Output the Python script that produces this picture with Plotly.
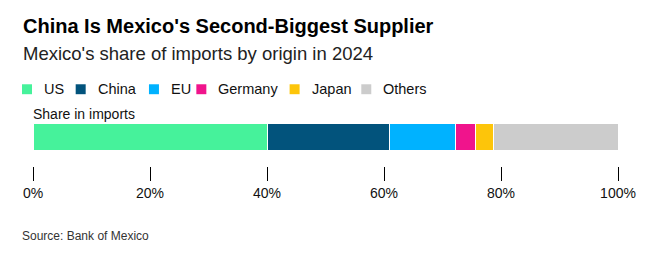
import plotly.graph_objects as go

categories = ["US", "China", "EU", "Germany", "Japan", "Others"]
shares = [40.1, 20.8, 11.3, 3.4, 3.1, 21.3]
colors = ["#46f29b", "#02537c", "#00b2ff", "#f0148c", "#fdc50a", "#cccccc"]
row_label = ["Share in imports"]
tick_vals = [0, 20, 40, 60, 80, 100]
tick_text = ["0%", "20%", "40%", "60%", "80%", "100%"]

# legend layout (pixel positions of swatches in the page)
legend_swatch_x = [22.3, 76.0, 149.3, 196.7, 290.0, 361.7]

W, H = 652, 262
FONT = "Liberation Sans, Arial, sans-serif"
ML, MR, MT, MB = 33.3, 33.5, 122.7, 96
PW = W - ML - MR
PH = H - MT - MB


def px_x(x):
    return (x - ML) / PW


def px_y(y):
    return 1 + (MT - y) / PH


fig = go.Figure()
for name, val, col in zip(categories, shares, colors):
    fig.add_trace(go.Bar(
        x=[val], y=[0], name=name, orientation="h",
        marker=dict(color=col, line=dict(color="white", width=1)),
        width=1, hoverinfo="name+x", showlegend=False,
    ))

shapes = []
annotations = []
for name, col, sx in zip(categories, colors, legend_swatch_x):
    shapes.append(dict(type="rect", xref="paper", yref="paper",
                       x0=px_x(sx), x1=px_x(sx + 10), y0=px_y(93.7), y1=px_y(83.7),
                       fillcolor=col, line=dict(width=0)))
    annotations.append(dict(text=name, xref="paper", yref="paper",
                            x=px_x(sx + 20), xanchor="left", y=px_y(88.7), yanchor="middle",
                            showarrow=False, font=dict(size=14.5, color="#111111")))

annotations += [
    dict(text="<b>China Is Mexico's Second-Biggest Supplier</b>", xref="paper", yref="paper",
         x=px_x(21.3), xanchor="left", y=px_y(25.5), yanchor="middle",
         showarrow=False, font=dict(size=20, color="#000000")),
    dict(text="Mexico's share of imports by origin in 2024", xref="paper", yref="paper",
         x=px_x(21.3), xanchor="left", y=px_y(53), yanchor="middle",
         showarrow=False, font=dict(size=18.5, color="#222222")),
    dict(text=row_label[0], xref="paper", yref="paper",
         x=px_x(31.5), xanchor="left", y=px_y(113.5), yanchor="middle",
         showarrow=False, font=dict(size=14, color="#111111")),
    dict(text="Source: Bank of Mexico", xref="paper", yref="paper",
         x=px_x(20.5), xanchor="left", y=px_y(236), yanchor="middle",
         showarrow=False, font=dict(size=12, color="#333333")),
]

fig.update_layout(
    width=W, height=H,
    barmode="stack",
    paper_bgcolor="white", plot_bgcolor="white",
    margin=dict(l=ML, r=MR, t=MT, b=MB, autoexpand=False),
    font=dict(family=FONT, color="#000000"),
    showlegend=False,
    xaxis=dict(
        range=[0, 100], tickvals=tick_vals, ticktext=tick_text,
        showgrid=False, zeroline=False, showline=False,
        ticks="outside", ticklen=14, tickwidth=1, tickcolor="#000000",
        tickfont=dict(size=14, color="#111111"), fixedrange=True,
    ),
    yaxis=dict(
        range=[-1.046, 0.5], showticklabels=False, showgrid=False,
        zeroline=False, showline=False, fixedrange=True,
    ),
    shapes=shapes,
    annotations=annotations,
)

fig.write_html("out.html")
